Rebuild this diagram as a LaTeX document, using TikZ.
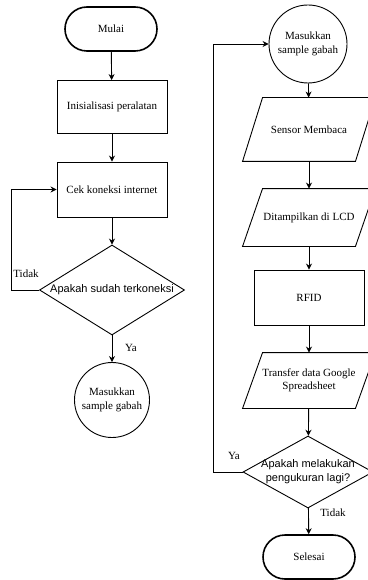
\documentclass[tikz,border=0pt]{standalone}
\usepackage{fontspec}
\setmainfont{Liberation Serif}
\newfontfamily\arialfont{Liberation Sans}
\usetikzlibrary{shapes.geometric,arrows.meta}
\begin{document}
\begin{tikzpicture}[x=1pt,y=-1pt,
  base/.style={font=\fontsize{11}{13.5}\selectfont, align=center, inner sep=0pt, line width=0.9pt},
  term/.style={base, draw, rounded corners=22pt, minimum width=92pt, minimum height=44pt, line width=1.6pt},
  proc/.style={base, draw, minimum width=110pt},
  circnode/.style={base, draw, circle},
  dec/.style={base, draw, diamond, inner sep=0pt},
  dectext/.style={align=center, inner sep=0pt, font=\arialfont\fontsize{11}{14}\selectfont},
  paranode/.style={base, minimum width=112pt},
  parashape/.style={draw, line width=0.9pt},
  arr/.style={-{Stealth[length=6pt,width=6pt]}, line width=0.9pt},
  lbl/.style={font=\fontsize{11}{13}\selectfont, inner sep=0pt}
]
\useasboundingbox (0,0) rectangle (367,580);
% left column
\node[term] (mulai) at (111,29) {Mulai};
\node[proc, minimum height=53pt] (init) at (112,107) {Inisialisasi peralatan};
\node[proc, minimum height=55pt] (cek) at (112,189.5) {Cek koneksi internet};
\node[dec, minimum width=145pt, minimum height=90pt] (dec1) at (112,290) {};
\node[dectext] (dec1t) at (dec1.center) {Apakah sudah terkoneksi};
\node[circnode, minimum size=75pt] (circ1) at (112,400) {Masukkan\\sample gabah};
\draw[arr] (mulai) -- (init);
\draw[arr] (init) -- (cek);
\draw[arr] (cek) -- (dec1);
\draw[arr] (dec1) -- (circ1);
\draw[arr] (dec1.west) -- ++(-27.5,0) |- (cek.west);
\node[lbl] (tidak1) at (26,274) {Tidak};
\node[lbl] (ya1) at (131,348) {Ya};
% right column
\node[circnode, minimum size=78pt] (circ2) at (308,44) {Masukkan\\sample gabah};
\node[paranode, minimum height=63pt] (sensor) at (309,129.5) {Sensor Membaca};
\node[paranode, minimum height=57pt] (disp) at (309,217.5) {Ditampilkan di LCD};
\node[proc, minimum height=55pt] (rfid) at (309,297.5) {RFID};
\node[paranode, minimum height=55pt] (transfer) at (309,380.5) {Transfer data Google\\Spreadsheet};
\node[dec, minimum width=130pt, minimum height=72pt] (dec2) at (308,472) {};
\node[dectext] (dec2t) at (dec2.center) {Apakah melakukan\\pengukuran lagi?};
\node[term] (selesai) at (309,557) {Selesai};
\foreach \p in {sensor,disp,transfer}{
  \draw[parashape] ([xshift=10pt]\p.north west) -- ([xshift=10pt]\p.north east) -- ([xshift=-10pt]\p.south east) -- ([xshift=-10pt]\p.south west) -- cycle;
}
\draw[arr] (circ2) -- (sensor);
\draw[arr] (sensor) -- (disp);
\draw[arr] (disp) -- (rfid);
\draw[arr] (rfid) -- (transfer);
\draw[arr] (transfer) -- (dec2);
\draw[arr] (dec2) -- (selesai);
\draw[arr] (dec2.west) -- ++(-29,0) |- (circ2.west);
\node[lbl] (ya2) at (234,456) {Ya};
\node[lbl] (tidak2) at (333,513) {Tidak};
\end{tikzpicture}
\end{document}
